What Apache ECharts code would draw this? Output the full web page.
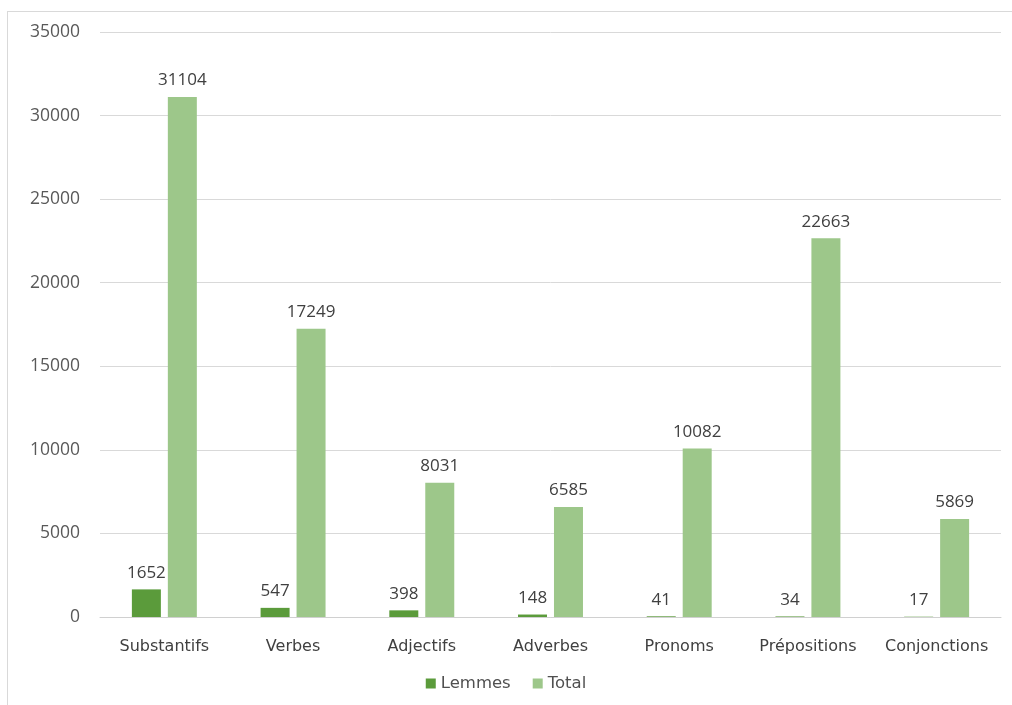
<!DOCTYPE html>
<html><head><meta charset="utf-8">
<script src="https://cdn.jsdelivr.net/npm/echarts@6/dist/echarts.min.js"></script>
<style>html,body{margin:0;padding:0;background:#fff}#c{width:1012px;height:705px}
#frame{position:absolute;left:7px;top:11px;width:1010px;height:700px;border-left:1px solid #d9d9d9;border-top:1px solid #d9d9d9;pointer-events:none}</style>
</head><body><div id="c"></div><div id="frame"></div>
<script>
const categories = ["Substantifs","Verbes","Adjectifs","Adverbes","Pronoms","Prépositions","Conjonctions"];
const lemmes = [1652,547,398,148,41,34,17];
const total = [31104,17249,8031,6585,10082,22663,5869];
const yTicks = [0,5000,10000,15000,20000,25000,30000,35000];
const chart = echarts.init(document.getElementById('c'));
const FONT = 'Open Sans, sans-serif';
const lbl = {show:true,position:'top',distance:8,color:'#404040',fontSize:17,fontFamily:FONT};
chart.setOption({
  animation:false,
  grid:{left:100,right:11,top:32,bottom:88,containLabel:false},
  legend:{bottom:8,left:'center',itemWidth:10,itemHeight:10,itemGap:22,icon:'rect',
    textStyle:{color:'#505050',fontSize:16.5,fontFamily:'DejaVu Sans, sans-serif'},data:['Lemmes','Total']},
  xAxis:{type:'category',data:categories,axisTick:{show:false},
    axisLine:{lineStyle:{color:'#d0d0d0'}},
    axisLabel:{color:'#404040',fontSize:16,fontFamily:'DejaVu Sans, sans-serif',margin:22,interval:0}},
  yAxis:{type:'value',min:yTicks[0],max:yTicks[yTicks.length-1],interval:5000,
    axisLine:{show:false},axisTick:{show:false},
    splitLine:{lineStyle:{color:'#d9d9d9'}},
    axisLabel:{color:'#595959',fontSize:17.5,fontFamily:FONT,margin:20,formatter:v=>String(v)}},
  series:[
    {name:'Lemmes',type:'bar',data:lemmes,barWidth:29,barGap:'24%',barCategoryGap:'48%',itemStyle:{color:'#5b9b3b'},label:lbl},
    {name:'Total',type:'bar',data:total,barWidth:29,itemStyle:{color:'#9dc78a'},label:lbl}
  ]
});
</script></body></html>
